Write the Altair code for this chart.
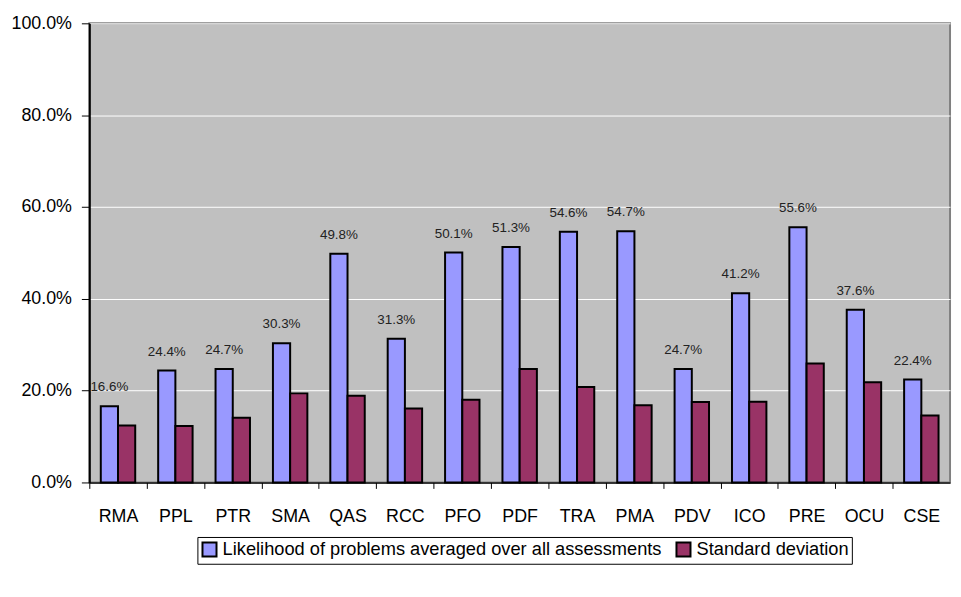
import altair as alt
import pandas as pd

categories = ["RMA", "PPL", "PTR", "SMA", "QAS", "RCC", "PFO", "PDF",
              "TRA", "PMA", "PDV", "ICO", "PRE", "OCU", "CSE"]
likelihood = [16.6, 24.4, 24.7, 30.3, 49.8, 31.3, 50.1, 51.3,
              54.6, 54.7, 24.7, 41.2, 55.6, 37.6, 22.4]
std_dev = [12.4, 12.3, 14.1, 19.4, 18.9, 16.1, 18.0, 24.7,
           20.8, 16.8, 17.5, 17.6, 25.9, 21.8, 14.6]
series_names = ["Likelihood of problems averaged over all assessments",
                "Standard deviation"]
series_colors = ["#9999FF", "#993366"]
y_ticks = [0, 0.2, 0.4, 0.6, 0.8, 1.0]

rows = []
for c, a, b in zip(categories, likelihood, std_dev):
    rows.append({"cat": c, "series": series_names[0], "value": a / 100})
    rows.append({"cat": c, "series": series_names[1], "value": b / 100})
df = pd.DataFrame(rows)

FONT = "Liberation Sans"
PLOT_W, PLOT_H = 868, 463
PAD_IN, PAD_OUT = 0.4, 0.2
STEP = PLOT_W / (len(categories) - PAD_IN + 2 * PAD_OUT)

x = alt.X(
    "cat:N", sort=categories, title=None,
    scale=alt.Scale(paddingInner=PAD_IN, paddingOuter=PAD_OUT),
    axis=alt.Axis(labelAngle=0, labelFontSize=18, labelFont=FONT,
                  labelColor="black", tickSize=6, tickColor="black",
                  tickOffset=-STEP / 2, labelOffset=STEP / 2,
                  domainColor="black", domainWidth=1.5,
                  labelPadding=19, grid=False),
)
xo = alt.XOffset("series:N", sort=series_names,
                 scale=alt.Scale(domain=series_names, paddingInner=0, paddingOuter=0))
y = alt.Y(
    "value:Q", title=None,
    scale=alt.Scale(domain=[0, 1], nice=False),
    axis=alt.Axis(format=".1%", values=y_ticks, labelFontSize=18, labelFont=FONT,
                  labelColor="black", tickSize=8, tickColor="black",
                  domainColor="black", domainWidth=2, labelPadding=10,
                  gridColor="white", gridWidth=1, gridOpacity=1),
)

bars = alt.Chart(df).mark_bar(stroke="black", strokeWidth=2).encode(
    x=x, xOffset=xo, y=y,
    color=alt.Color(
        "series:N", sort=series_names,
        scale=alt.Scale(domain=series_names, range=series_colors),
        legend=alt.Legend(
            title=None, orient="none", direction="horizontal",
            legendX=109, legendY=518,
            labelFontSize=18.4, labelFont=FONT, labelColor="black", labelLimit=800,
            symbolType="square", symbolSize=200, symbolStrokeColor="black",
            symbolStrokeWidth=2, symbolOpacity=1,
            strokeColor="black", fillColor="white", padding=3,
            columnPadding=10, labelOffset=4,
        ),
    ),
)

labels = alt.Chart(df).transform_filter(
    alt.datum.series == series_names[0]
).mark_text(baseline="bottom", dy=-12, fontSize=13.5, font=FONT, color="#222222").encode(
    x=x, xOffset=xo, y=y,
    text=alt.Text("value:Q", format=".1%"),
)

chart = alt.layer(bars, labels).properties(
    width=PLOT_W, height=PLOT_H,
    autosize=alt.AutoSizeParams(type="none"),
    padding={"left": 82, "top": 13, "right": 3, "bottom": 105},
    background="white",
).configure_view(
    fill="#C0C0C0", stroke="#808080", strokeWidth=2
)

chart.save("out.html", embed_options={"renderer": "svg", "actions": False})
